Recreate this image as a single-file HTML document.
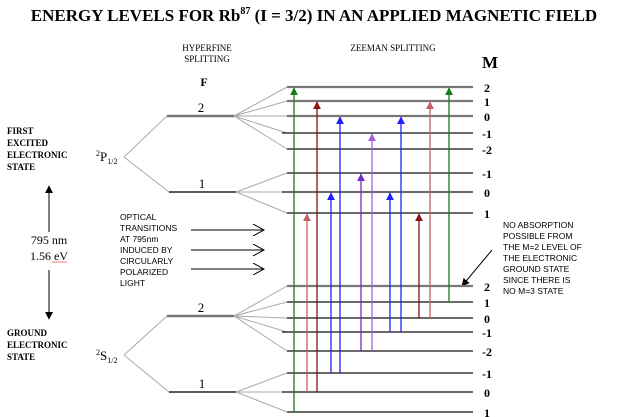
<!DOCTYPE html>
<html><head><meta charset="utf-8"><style>
html,body{margin:0;padding:0;background:#fff;}
svg{display:block;}
.s{font-family:"Liberation Serif",serif;}
.a{font-family:"Liberation Sans",sans-serif;}
</style></head><body>
<svg id="chart" width="628" height="417" viewBox="0 0 628 417">
<defs>
<marker id="ah" viewBox="0 0 10 10" refX="9" refY="5" markerWidth="8" markerHeight="8" orient="auto" markerUnits="userSpaceOnUse"><path d="M0,0 L10,5 L0,10 z" fill="context-stroke"/></marker>
<marker id="ab" viewBox="0 0 10 10" refX="9" refY="5" markerWidth="8" markerHeight="8" orient="auto" markerUnits="userSpaceOnUse"><path d="M0,0 L10,5 L0,10 z" fill="#000"/></marker>
<marker id="ao" viewBox="0 0 12 12" refX="11" refY="6" markerWidth="12" markerHeight="12" orient="auto" markerUnits="userSpaceOnUse"><path d="M0,0 L11,6 L0,12" fill="none" stroke="#000" stroke-width="1"/></marker>
</defs>
<text class="s" x="314" y="21" text-anchor="middle" font-size="17" font-weight="bold">ENERGY LEVELS FOR Rb<tspan font-size="10" dy="-7">87</tspan><tspan dy="7"> (I = 3/2) IN AN APPLIED MAGNETIC FIELD</tspan></text>
<text class="s" x="207" y="51" text-anchor="middle" font-size="9">HYPERFINE</text>
<text class="s" x="207" y="62" text-anchor="middle" font-size="9">SPLITTING</text>
<text class="s" x="393" y="51" text-anchor="middle" font-size="9">ZEEMAN SPLITTING</text>
<text class="s" x="482" y="68" font-size="17" font-weight="bold">M</text>
<text class="s" x="204" y="86" text-anchor="middle" font-size="12" font-weight="bold">F</text>
<g class="s" font-size="9" font-weight="bold">
<text x="7" y="134">FIRST</text><text x="7" y="146">EXCITED</text><text x="7" y="158">ELECTRONIC</text><text x="7" y="170">STATE</text></g>
<g class="s" font-size="9" font-weight="bold">
<text x="7" y="336">GROUND</text><text x="7" y="348">ELECTRONIC</text><text x="7" y="360">STATE</text></g>
<text class="s" x="96" y="161" font-size="13"><tspan font-size="8" dy="-5">2</tspan><tspan dy="5">P</tspan><tspan font-size="8" dy="3">1/2</tspan></text>
<text class="s" x="96" y="360" font-size="13"><tspan font-size="8" dy="-5">2</tspan><tspan dy="5">S</tspan><tspan font-size="8" dy="3">1/2</tspan></text>
<line x1="49" y1="232" x2="49" y2="186" stroke="#000" marker-end="url(#ab)"/>
<line x1="49" y1="270" x2="49" y2="319" stroke="#000" marker-end="url(#ab)"/>
<text class="s" x="49" y="244" text-anchor="middle" font-size="12">795 nm</text>
<text class="s" x="49" y="260" text-anchor="middle" font-size="12">1.56 eV</text>
<line x1="52" y1="262" x2="67" y2="262" stroke="#e06060" stroke-width="0.8"/>
<g class="a" font-size="8.5">
<text x="120" y="220">OPTICAL</text><text x="120" y="231">TRANSITIONS</text><text x="120" y="242">AT 795nm</text><text x="120" y="253">INDUCED BY</text><text x="120" y="264">CIRCULARLY</text><text x="120" y="275">POLARIZED</text><text x="120" y="286">LIGHT</text></g>
<g>
<line x1="191" y1="230" x2="264" y2="230" stroke="#000" marker-end="url(#ao)"/>
<line x1="191" y1="250" x2="264" y2="250" stroke="#000" marker-end="url(#ao)"/>
<line x1="191" y1="269" x2="264" y2="269" stroke="#000" marker-end="url(#ao)"/>
</g>
<g class="a" font-size="8.5">
<text x="503" y="228">NO ABSORPTION</text><text x="503" y="239">POSSIBLE FROM</text><text x="503" y="250">THE M=2 LEVEL OF</text><text x="503" y="261">THE ELECTRONIC</text><text x="503" y="272">GROUND STATE</text><text x="503" y="283">SINCE THERE IS</text><text x="503" y="294">NO M=3 STATE</text></g>
<line x1="492" y1="250" x2="462" y2="286" stroke="#000" marker-end="url(#ab)"/>
<g id="levels"></g>
<g id="marks"></g>
</svg>
<script>
// Data
const upperM = ["2","1","0","-1","-2","-1","0","1"];
const upperF = [2,2,2,2,2,1,1,1];
const upperY = [87,101,116,133,149,173,192,213];
const lowerM = ["2","1","0","-1","-2","-1","0","1"];
const lowerF = [2,2,2,2,2,1,1,1];
const lowerY = [286,302,318,332,351,373,392,412];
const hyperUpperF = ["2","1"];
const hyperUpperY = [116,192];
const hyperLowerF = ["2","1"];
const hyperLowerY = [316,392];
// transitions: x position, from lower-level index, to upper-level index, colour
const transX = [294,307,317,331,340,361,372,390,401,419,430,449];
const transFrom = [7,6,6,5,5,4,4,3,3,2,2,1];
const transTo = [0,7,1,6,2,5,3,6,2,7,1,0];
const transColor = ["#1a7a1a","#c06060","#8b1010","#2020ff","#2020ff","#7030c0","#a060e0","#2020ff","#2020ff","#8b1010","#c06060","#1a7a1a"];

const NS="http://www.w3.org/2000/svg";
const L=document.getElementById('levels'), M=document.getElementById('marks');
function ln(g,x1,y1,x2,y2,st,w){const e=document.createElementNS(NS,'line');e.setAttribute('x1',x1);e.setAttribute('y1',y1);e.setAttribute('x2',x2);e.setAttribute('y2',y2);e.setAttribute('stroke',st);e.setAttribute('stroke-width',w);g.appendChild(e);return e;}
function tx(g,x,y,t,size,anchor){const e=document.createElementNS(NS,'text');e.setAttribute('x',x);e.setAttribute('y',y);e.setAttribute('font-size',size);e.setAttribute('font-family','"Liberation Serif",serif');if(anchor)e.setAttribute('text-anchor',anchor);e.textContent=t;g.appendChild(e);return e;}
function block(ms,fs,ys,hf,hy,cy,tag){
  const c1=ln(L,124,cy,167,hy[0],'#aaa',1);
  
  
  const c2=ln(L,124,cy,169,hy[1],'#aaa',1);
  
  
  for(let i=0;i<2;i++){
    const h=ln(L,i?169:167,hy[i],i?236:234,hy[i],i?'#222':'#777',i?1.5:2.5);
    
    
    const t=tx(L,i?202:201,hy[i]-4,hf[i],13,'middle');
    
    
  }
  for(let i=0;i<ms.length;i++){
    const fi=fs[i]===2?0:1;
    const sx=fi?236:234;
    const fan=ln(L,sx,hy[fi],287,ys[i],'#aaa',1);
    
    
    const gray=(tag==='upper'&&i<3)||(tag==='lower'&&i===0);
    const z=ln(L,i===3||i===6?282:287,ys[i],473,ys[i],gray?'#777':'#111',gray?2.2:1.3);
    
    
    const t=tx(L,487,ys[i]+5,ms[i],12,'middle');
    t.setAttribute('font-weight','bold');
    
    
  }
}
block(upperM,upperF,upperY,hyperUpperF,hyperUpperY,157,'upper');
block(lowerM,lowerF,lowerY,hyperLowerF,hyperLowerY,355,'lower');
for(let i=0;i<transX.length;i++){
  const y1=lowerY[transFrom[i]], y2=upperY[transTo[i]]+1;
  const a=ln(M,transX[i],y1,transX[i],y2,transColor[i],1.3);
  a.setAttribute('marker-end','url(#ah)');
  
  
}
</script>
</body></html>
